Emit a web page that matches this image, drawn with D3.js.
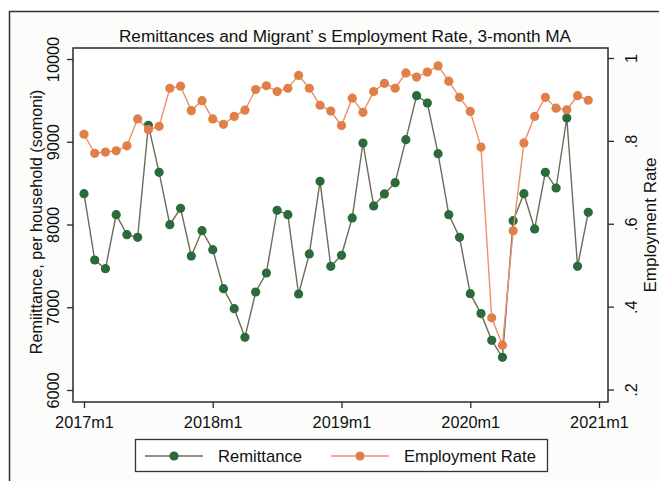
<!DOCTYPE html>
<html>
<head>
<meta charset="utf-8">
<script src="https://cdn.jsdelivr.net/npm/d3@7"></script>
<style>
  body { margin: 0; background: #fff; }
  text { font-family: "Liberation Sans", Arial, sans-serif; fill: #111; }
</style>
</head>
<body>
<svg id="chart" width="659" height="481"></svg>
<script>
// donnees (moyenne mobile 3 mois)
var years = [2017, 2018, 2019, 2020];
var tickMonths = [0, 12, 24, 36, 48];
var tickLabels = ["2017m1", "2018m1", "2019m1", "2020m1", "2021m1"];

var remittance = [
  8372, 7571, 7466, 8119, 7877, 7845, 9199, 8631, 7998, 8196, 7619, 7925,
  7696, 7224, 6983, 6637, 7184, 7414, 8171, 8119, 7160, 7644, 8522, 7495,
  7628, 8079, 8985, 8224, 8369, 8505, 9025, 9557, 9468, 8856, 8119, 7845,
  7164, 6923, 6600, 6395, 8046, 8372, 7946, 8631, 8441, 9287, 7495, 8147
];
var employment = [
  .816, .770, .773, .776, .788, .853, .827, .835, .927, .932, .873, .897,
  .853, .840, .859, .874, .924, .933, .919, .927, .958, .927, .886, .872,
  .837, .903, .869, .919, .939, .927, .964, .954, .966, .981, .944, .905,
  .871, .785, .373, .307, .583, .795, .859, .905, .879, .875, .909, .898
];
var leftTicks = [6000, 7000, 8000, 9000, 10000];
var rightTicks = [.2, .4, .6, .8, 1];

var svg = d3.select("#chart");

// zone du graphe
var plot = {x0: 73, x1: 608, y0: 48, y1: 402};

var x = d3.scaleLinear().domain([0, 48]).range([84, 599]);
var yL = d3.scaleLinear().domain([6000, 10000]).range([390, 59]);
var yR = d3.scaleLinear().domain([.2, 1]).range([389.5, 58]);

var colRem = "#2b6a3a", colRemLine = "#6f6a5c";
var colEmp = "#e07f48", colEmpLine = "#e8926a";

// cadre exterieur
svg.append("rect")
  .attr("x", 9.5).attr("y", 11.5).attr("width", 660).attr("height", 480)
  .attr("fill", "#fcfcfb").attr("stroke", "#333").attr("stroke-width", 1.5);

svg.append("rect")
  .attr("x", plot.x0).attr("y", plot.y0)
  .attr("width", plot.x1 - plot.x0).attr("height", plot.y1 - plot.y0)
  .attr("fill", "#fff").attr("stroke", "#2a2a2a").attr("stroke-width", 1.5);

// axes
var xAxis = d3.axisBottom(x).tickValues(tickMonths)
  .tickFormat(function(d, i) { return tickLabels[i]; })
  .tickSize(6).tickPadding(5);
var gx = svg.append("g").attr("transform", "translate(0," + plot.y1 + ")").call(xAxis);
gx.select(".domain").remove();
gx.selectAll("text").style("font-size", "16.3px").attr("dy", "0.95em");

var gl = svg.append("g").attr("transform", "translate(" + plot.x0 + ",0)")
  .call(d3.axisLeft(yL).tickValues(leftTicks).tickFormat(d3.format("d")).tickSize(6));
gl.select(".domain").remove();
gl.selectAll("text").style("font-size", "16.3px")
  .attr("x", null).attr("dy", null)
  .attr("text-anchor", "middle")
  .attr("transform", "translate(-14,0) rotate(-90)");

var gr = svg.append("g").attr("transform", "translate(" + plot.x1 + ",0)")
  .call(d3.axisRight(yR).tickValues(rightTicks)
    .tickFormat(function(d) { return d == 1 ? "1" : d3.format(".1f")(d).replace("0.", "."); })
    .tickSize(6));
gr.select(".domain").remove();
gr.selectAll("text").style("font-size", "16.3px")
  .attr("x", null).attr("dy", null)
  .attr("text-anchor", "middle")
  .attr("transform", "translate(29,0) rotate(-90)");

svg.selectAll(".tick line").attr("stroke", "#2a2a2a").attr("stroke-width", 1.3);

// titres
svg.append("text").attr("x", 345).attr("y", 41.5).attr("text-anchor", "middle")
  .style("font-size", "17.2px").text("Remittances and Migrant\u2019 s Employment Rate, 3-month MA");

svg.append("text").attr("transform", "translate(42,222) rotate(-90)")
  .attr("text-anchor", "middle").style("font-size", "16.2px")
  .text("Remiittance, per household (somoni)");

svg.append("text").attr("transform", "translate(656,225) rotate(-90)")
  .attr("text-anchor", "middle").style("font-size", "17px")
  .text("Employment Rate");

// series
var lineRem = d3.line().x(function(d, i) { return x(i); }).y(function(d) { return yL(d); });
var lineEmp = d3.line().x(function(d, i) { return x(i); }).y(function(d) { return yR(d); });

svg.append("path").datum(remittance).attr("d", lineRem)
  .attr("fill", "none").attr("stroke", colRemLine).attr("stroke-width", 1.4);
svg.selectAll(".ptRem").data(remittance).enter().append("circle")
  .attr("class", "ptRem")
  .attr("cx", function(d, i) { return x(i); })
  .attr("cy", function(d) { return yL(d); })
  .attr("r", 4.6).attr("fill", colRem);

svg.append("path").datum(employment).attr("d", lineEmp)
  .attr("fill", "none").attr("stroke", colEmpLine).attr("stroke-width", 1.4);
svg.selectAll(".ptEmp").data(employment).enter().append("circle")
  .attr("class", "ptEmp")
  .attr("cx", function(d, i) { return x(i); })
  .attr("cy", function(d) { return yR(d); })
  .attr("r", 4.6).attr("fill", colEmp);

// legende
var leg = svg.append("g");
leg.append("rect").attr("x", 135.5).attr("y", 439.5).attr("width", 412).attr("height", 32)
  .attr("fill", "#fff").attr("stroke", "#333").attr("stroke-width", 1.3);

var legItems = [
  {name: "Remittance", line: colRemLine, dot: colRem, x: 145},
  {name: "Employment Rate", line: colEmpLine, dot: colEmp, x: 331}
];
legItems.forEach(function(it) {
  leg.append("line").attr("x1", it.x).attr("x2", it.x + 58)
    .attr("y1", 456).attr("y2", 456).attr("stroke", it.line).attr("stroke-width", 1.4);
  leg.append("circle").attr("cx", it.x + 29).attr("cy", 456).attr("r", 4.6).attr("fill", it.dot);
  leg.append("text").attr("x", it.x + 73).attr("y", 461.5)
    .style("font-size", "16.6px").text(it.name);
});
</script>
</body>
</html>
